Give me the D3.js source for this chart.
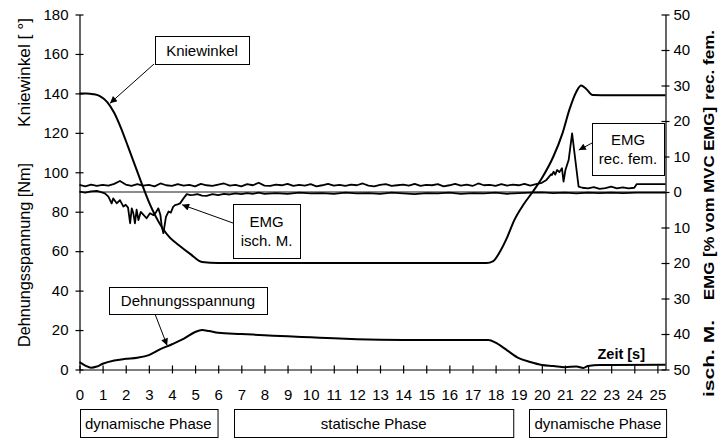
<!DOCTYPE html>
<html>
<head>
<meta charset="utf-8">
<script src="https://cdn.jsdelivr.net/npm/d3@7"></script>
<style>
  html, body { margin: 0; padding: 0; background: #fff; }
  svg { display: block; font-family: "Liberation Sans", Arial, sans-serif; }
  .axis path, .axis line { stroke: #000; stroke-width: 1.2; }
  .axis text { font-size: 15px; fill: #000; }
</style>
</head>
<body>
<div id="chart"></div>
<script>
// ---- data ----
// Kniewinkel [deg] over Zeit [s]
const kneeAngle = [
  [0, 140], [0.3, 140], [0.6, 139.6], [0.9, 138.5], [1.2, 135.6], [1.5, 130.2],
  [1.8, 122.3], [2.1, 113], [2.4, 103.5], [2.7, 94], [3.0, 85], [3.3, 77.5],
  [3.6, 71.5], [3.9, 67], [4.3, 63], [4.8, 58.5], [5.3, 54.5], [6, 54],
  [10, 54], [14, 54], [17.6, 54], [17.9, 55], [18.2, 60], [18.5, 67],
  [18.8, 75.5], [19.2, 83.5], [19.6, 90], [20.0, 97], [20.5, 108], [20.9, 120],
  [21.2, 132], [21.5, 141], [21.7, 144], [21.9, 142.5], [22.2, 139.2], [23, 139],
  [25.35, 139]
];

// Dehnungsspannung [Nm]
const stretchTorque = [
  [0, 3.7], [0.25, 2], [0.5, 0.9], [0.75, 1.5], [1.0, 2.9], [1.5, 4.6],
  [2.0, 5.4], [2.5, 6], [3.0, 7.3], [3.5, 10.3], [4.0, 12.8], [4.5, 15.5],
  [5.0, 19], [5.3, 20], [5.6, 19.5], [6, 18.6], [7, 18], [8, 17.4],
  [9, 16.8], [10, 16.3], [11, 15.8], [12, 15.4], [13, 15.1], [14, 15],
  [15, 15], [16, 15], [17, 15], [17.7, 15], [18, 13.6], [18.5, 9.7],
  [19, 5.8], [19.5, 3.8], [20, 2.3], [20.5, 1.8], [21, 1.2], [21.5, 1.5],
  [21.8, 0.8], [22, 1.8], [22.5, 2.3], [23, 2.3], [25.35, 2.4]
];

// EMG rec. fem. [% MVC], plotted upward on the right axis
const emgRecFem = [
  [0, 2.0], [0.25, 1.6], [0.5, 2.1], [0.75, 1.7], [1.0, 2.0], [1.25, 1.8], [1.5, 2.3], [1.75, 3.1],
  [2.0, 2.1], [2.25, 1.7], [2.5, 2.2], [2.75, 1.8], [3.0, 2.0], [3.25, 1.6], [3.5, 2.4], [3.75, 1.9],
  [4.0, 1.7], [4.25, 2.2], [4.5, 1.8], [4.75, 2.0], [5.0, 1.6], [5.25, 2.3], [5.5, 1.9], [5.75, 1.7],
  [6.0, 2.1], [6.25, 2.4], [6.5, 1.8], [6.75, 2.0], [7.0, 1.6], [7.25, 2.2], [7.5, 1.9], [7.75, 2.6],
  [8.0, 1.8], [8.25, 1.7], [8.5, 2.1], [8.75, 1.9], [9.0, 2.3], [9.25, 1.7], [9.5, 2.0], [9.75, 1.8],
  [10.0, 2.2], [10.25, 1.6], [10.5, 1.9], [10.75, 2.3], [11.0, 1.8], [11.25, 2.0], [11.5, 1.7], [11.75, 2.1],
  [12.0, 1.9], [12.25, 2.4], [12.5, 1.8], [12.75, 1.6], [13.0, 2.0], [13.25, 2.2], [13.5, 1.7], [13.75, 1.9],
  [14.0, 2.1], [14.25, 1.8], [14.5, 2.3], [14.75, 1.7], [15.0, 2.0], [15.25, 1.9], [15.5, 2.2], [15.75, 1.6],
  [16.0, 1.9], [16.25, 2.3], [16.5, 1.8], [16.75, 2.1], [17.0, 1.7], [17.25, 2.4], [17.5, 1.9], [17.75, 2.0],
  [18.0, 1.7], [18.25, 2.2], [18.5, 1.8], [18.75, 2.1], [19.0, 1.9], [19.25, 2.3], [19.5, 1.8], [19.75, 2.2],
  [20.0, 2.6], [20.2, 3.4], [20.3, 4.2], [20.4, 5.0], [20.44, 4.8], [20.51, 5.7], [20.58, 4.9], [20.66, 6.2],
  [20.76, 5.6], [20.87, 6.7], [20.94, 2.9], [21.02, 6.2], [21.16, 9.0], [21.31, 16.5], [21.45, 9.0], [21.59, 1.5],
  [21.75, 1.2], [22.0, 1.0], [22.25, 1.4], [22.5, 0.9], [22.75, 1.1], [23.0, 1.5], [23.25, 1.0], [23.5, 1.3],
  [23.75, 1.0], [24.0, 1.2], [24.1, 2.2], [25.35, 2.2]
];

// EMG isch. M. [% MVC], plotted downward on the right axis (negative)
const emgIschM = [
  [0, 0.1], [0.25, -0.2], [0.5, 0.2], [0.75, 0.3], [1.0, -0.2], [1.1, -0.4], [1.25, -1.3], [1.39, -3.2],
  [1.46, -1.8], [1.61, -3.2], [1.75, -2.3], [1.9, -4.1], [2.0, -3.6], [2.1, -4.4], [2.19, -8.8], [2.26, -4.6],
  [2.33, -6.0], [2.4, -8.8], [2.47, -5.0], [2.55, -7.9], [2.65, -5.6], [2.75, -6.3], [2.9, -7.4], [3.05, -6.0],
  [3.2, -6.5], [3.3, -5.8], [3.41, -4.6], [3.5, -6.5], [3.56, -9.8], [3.63, -11.6], [3.74, -7.0], [3.85, -5.5],
  [3.95, -5.8], [4.05, -4.2], [4.13, -3.7], [4.25, -3.5], [4.35, -3.2], [4.5, -1.8], [4.64, -0.6], [4.8, -0.9],
  [4.93, -0.8], [5.1, -0.6], [5.3, -1.0], [5.5, -1.1], [5.75, -0.6], [6.0, -0.9], [6.25, -0.5], [6.5, -0.7],
  [6.75, -0.4], [7.0, -0.6], [7.25, -0.3], [7.5, -0.5], [7.75, -0.2], [8.0, -0.5], [8.5, -0.3], [9.0, -0.5],
  [9.5, -0.2], [10.0, -0.4], [10.5, -0.3], [11.0, -0.5], [11.5, -0.2], [12.0, -0.4], [12.5, -0.3], [13.0, -0.5],
  [13.5, -0.2], [14.0, -0.4], [14.5, -0.6], [15.0, -0.3], [15.5, -0.4], [16.0, -0.2], [16.5, -0.5], [17.0, -0.3],
  [17.5, -0.4], [18.0, -0.2], [18.5, -0.5], [19.0, -0.3], [19.5, -0.2], [20.0, -0.1], [20.5, -0.3], [21.0, -0.2],
  [21.5, -0.4], [22.0, -0.2], [22.5, -0.3], [23.0, -0.2], [23.5, -0.3], [24.1, -0.2], [25.35, -0.2]
];

const timeTicks = d3.range(0, 26);
const leftTicks = d3.range(0, 181, 20);
const rightTicks = d3.range(-50, 51, 10);

// phase boxes under the time axis, in seconds
const phases = [
  { label: 'dynamische Phase', from: 0, to: 5.95 },
  { label: 'statische Phase', from: 6.69, to: 18.77 },
  { label: 'dynamische Phase', from: 19.46, to: 25.39 }
];

// ---- layout ----
const width = 724, height = 439;
const plot = { left: 79.5, right: 665.5, top: 14.5, bottom: 369.5 };

const svg = d3.select('#chart').append('svg')
  .attr('width', width)
  .attr('height', height);

const x = d3.scaleLinear().domain([0, 25.35]).range([plot.left, plot.right]);
const yLeft = d3.scaleLinear().domain([0, 180]).range([plot.bottom, plot.top]);
const yRight = d3.scaleLinear().domain([-50, 50]).range([plot.bottom, plot.top]);

// arrow head
svg.append('defs').append('marker')
  .attr('id', 'head')
  .attr('viewBox', '0 0 10 10')
  .attr('refX', 10).attr('refY', 5)
  .attr('markerWidth', 9).attr('markerHeight', 7)
  .attr('markerUnits', 'userSpaceOnUse')
  .attr('orient', 'auto')
  .append('path').attr('d', 'M0,0 L10,5 L0,10 Z').attr('fill', '#000');

// EMG zero line (grey)
svg.append('line')
  .attr('x1', plot.left).attr('x2', plot.right)
  .attr('y1', yRight(0)).attr('y2', yRight(0))
  .attr('stroke', '#8c8c8c').attr('stroke-width', 2);

// ---- axes (ticks cross the axis line) ----
const crossTicks = (g, horizontal) => {
  g.selectAll('.tick line')
    .attr(horizontal ? 'y1' : 'x1', -4)
    .attr(horizontal ? 'y2' : 'x2', 4);
};

svg.append('g').attr('class', 'axis')
  .attr('transform', `translate(0,${plot.bottom})`)
  .call(d3.axisBottom(x).tickValues(timeTicks).tickSizeOuter(0))
  .call(g => crossTicks(g, true))
  .call(g => g.selectAll('.tick text').attr('y', 20));

svg.append('g').attr('class', 'axis')
  .attr('transform', `translate(${plot.left},0)`)
  .call(d3.axisLeft(yLeft).tickValues(leftTicks).tickSizeOuter(0))
  .call(g => crossTicks(g, false))
  .call(g => g.selectAll('.tick text').attr('x', -11));

svg.append('g').attr('class', 'axis')
  .attr('transform', `translate(${plot.right},0)`)
  .call(d3.axisRight(yRight).tickValues(rightTicks).tickFormat(d => Math.abs(d)).tickSizeOuter(0))
  .call(g => crossTicks(g, false))
  .call(g => g.selectAll('.tick text').attr('x', 8));

// ---- series ----
const lineLeft = d3.line().x(d => x(d[0])).y(d => yLeft(d[1]));
const lineRight = d3.line().x(d => x(d[0])).y(d => yRight(d[1]));

svg.append('path').datum(emgIschM)
  .attr('d', lineRight)
  .attr('fill', 'none').attr('stroke', '#000').attr('stroke-width', 1.8)
  .attr('stroke-linejoin', 'round');

svg.append('path').datum(emgRecFem)
  .attr('d', lineRight)
  .attr('fill', 'none').attr('stroke', '#000').attr('stroke-width', 1.8)
  .attr('stroke-linejoin', 'round');

svg.append('path').datum(kneeAngle)
  .attr('d', lineLeft.curve(d3.curveMonotoneX))
  .attr('fill', 'none').attr('stroke', '#000').attr('stroke-width', 2);

svg.append('path').datum(stretchTorque)
  .attr('d', lineLeft.curve(d3.curveMonotoneX))
  .attr('fill', 'none').attr('stroke', '#000').attr('stroke-width', 2);

// ---- annotations: box + arrow to a point given in data units ----
const notes = [
  { lines: ['Kniewinkel'], box: [155, 36, 94, 28], from: [154, 64], to: [x(1.32), yLeft(135)] },
  { lines: ['EMG', 'isch. M.'], box: [233, 204, 67, 54], from: [233, 223], to: [x(4.44), yRight(-3.6)] },
  { lines: ['Dehnungsspannung'], box: [109, 287, 158, 27], from: [155, 314], to: [x(3.79), yLeft(12.2)] },
  { lines: ['EMG', 'rec. fem.'], box: [592, 123, 72, 52], from: [592, 143], to: [x(21.6), yRight(11.8)] }
];

notes.forEach(n => {
  const [bx, by, bw, bh] = n.box;
  svg.append('line')
    .attr('x1', n.from[0]).attr('y1', n.from[1])
    .attr('x2', n.to[0]).attr('y2', n.to[1])
    .attr('stroke', '#000').attr('stroke-width', 1)
    .attr('marker-end', 'url(#head)');
  svg.append('rect')
    .attr('x', bx + 0.5).attr('y', by + 0.5)
    .attr('width', bw).attr('height', bh)
    .attr('fill', '#fff').attr('stroke', '#000').attr('stroke-width', 1);
  const lh = 19;
  const y0 = by + bh / 2 - (n.lines.length - 1) * lh / 2 + 5.5;
  n.lines.forEach((t, i) => {
    svg.append('text')
      .attr('x', bx + bw / 2).attr('y', y0 + i * lh)
      .attr('text-anchor', 'middle')
      .style('font-size', '15px')
      .text(t);
  });
});

// "Zeit [s]"
svg.append('text')
  .attr('x', 645).attr('y', 359)
  .attr('text-anchor', 'end')
  .style('font-size', '14.5px').style('font-weight', 'bold')
  .text('Zeit [s]');

// phase boxes
const phaseG = svg.append('g');
phases.forEach(p => {
  phaseG.append('rect')
    .attr('x', Math.round(x(p.from)) + 0.5).attr('y', 409.5)
    .attr('width', x(p.to) - x(p.from)).attr('height', 28)
    .attr('fill', '#fff').attr('stroke', '#000').attr('stroke-width', 1);
  phaseG.append('text')
    .attr('x', (x(p.from) + x(p.to)) / 2).attr('y', 429)
    .attr('text-anchor', 'middle')
    .style('font-size', '15px')
    .text(p.label);
});

// rotated axis titles
const vText = (label, cx, cy, len, bold) => {
  svg.append('text')
    .attr('transform', `translate(${cx},${cy}) rotate(-90)`)
    .attr('text-anchor', 'middle')
    .attr('textLength', len).attr('lengthAdjust', 'spacingAndGlyphs')
    .style('font-size', bold ? '14px' : '16px')
    .style('font-weight', bold ? 'bold' : 'normal')
    .text(label);
};
vText('Kniewinkel [ °]', 30, 72.5, 109, false);
vText('Dehnungsspannung [Nm]', 30, 255, 184, false);
vText('rec. fem.', 714, 65, 70, true);
vText('EMG [% vom MVC EMG]', 714, 203.5, 193, true);
vText('isch. M.', 714, 358.5, 77, true);
</script>
</body>
</html>
